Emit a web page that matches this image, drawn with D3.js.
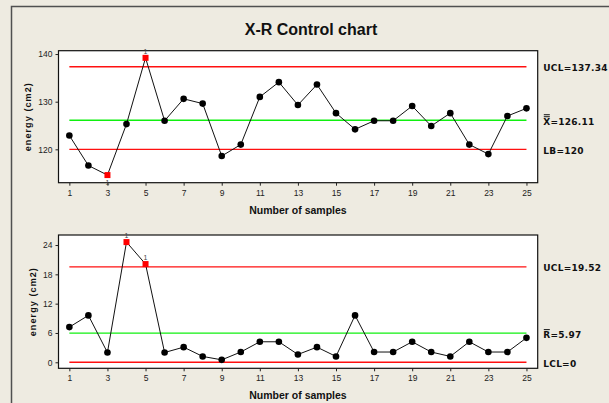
<!DOCTYPE html>
<html><head><meta charset="utf-8">
<script src="https://cdn.jsdelivr.net/npm/d3@7"></script>
<style>
html,body{margin:0;padding:0;background:#EEEBE1;}
svg{display:block;}
</style></head>
<body>
<svg id="c" width="609" height="403"></svg>
<script>
const samples = d3.range(1, 26);
const xTicks = [1,3,5,7,9,11,13,15,17,19,21,23,25];
const xbarValues = [122.9,116.6,114.6,125.3,139.2,126.0,130.6,129.6,118.6,121.0,131.0,134.1,129.3,133.6,127.6,124.2,126.0,126.0,129.1,124.9,127.6,121.0,119.0,127.0,128.6];
const rangeValues = [7.2,9.6,2.0,24.6,20.1,2.0,3.1,1.2,0.5,2.1,4.2,4.2,1.6,3.1,1.2,9.6,2.1,2.1,4.2,2.1,1.2,4.2,2.1,2.1,5.0];
const xbarTicks = [120,130,140];
const rangeTicks = [0,6,12,18,24];
const xbarLimits = {ucl:137.34, cl:126.11, lcl:120};
const rangeLimits = {ucl:19.52, cl:5.97, lcl:0};
const xbarFlags = [3,5];
const rangeFlags = [4,5];

const svg = d3.select("#c");
// outer frame
svg.append("rect").attr("x",11.5).attr("y",6.5).attr("width",700).attr("height",500)
  .attr("fill","#EEEBE1").attr("stroke","#505050").attr("stroke-width",1.5);

svg.append("text").attr("x",311).attr("y",34.5).attr("text-anchor","middle")
  .attr("font-family","Liberation Sans, Arial, sans-serif").attr("font-weight","bold")
  .attr("font-size",16).attr("fill","#111").text("X-R Control chart");

const L = 58.5, R = 537.7;
const x = d3.scaleLinear().domain([0.43, 25.59]).range([L, R]);

function panel(cfg){
  const y = d3.scaleLinear().domain(cfg.domain).range([cfg.bottom, cfg.top]);
  const g = svg.append("g");
  g.append("rect").attr("x",L).attr("y",cfg.top).attr("width",R-L).attr("height",cfg.bottom-cfg.top)
    .attr("fill","#fff").attr("stroke","#111").attr("stroke-width",1.2);

  // axes
  const ya = g.append("g").attr("transform",`translate(${L},0)`)
    .call(d3.axisLeft(y).tickValues(cfg.ticks).tickSize(3).tickPadding(3).tickFormat(d3.format("d")));
  ya.select(".domain").remove();
  ya.selectAll("text").attr("font-family","Liberation Sans, Arial, sans-serif").attr("font-size",8.5).attr("fill","#222");
  ya.selectAll("line").attr("stroke","#222");

  const xa = g.append("g").attr("transform",`translate(0,${cfg.bottom})`)
    .call(d3.axisBottom(x).tickValues(xTicks).tickSize(3).tickPadding(4).tickFormat(d3.format("d")));
  xa.select(".domain").remove();
  xa.selectAll("text").attr("font-family","Liberation Sans, Arial, sans-serif").attr("font-size",8.5).attr("fill","#222");
  xa.selectAll("line").attr("stroke","#222");

  g.append("text").attr("x",298).attr("y",cfg.bottom+31).attr("text-anchor","middle")
    .attr("font-family","Liberation Sans, Arial, sans-serif").attr("font-weight","bold")
    .attr("font-size",10.5).attr("fill","#111").text("Number of samples");

  const cy = (cfg.top+cfg.bottom)/2;
  g.append("text").attr("transform",`translate(${cfg.ylabX},${cy}) rotate(-90)`).attr("text-anchor","middle")
    .attr("font-family","Liberation Sans, Arial, sans-serif").attr("font-weight","bold")
    .attr("font-size",9).attr("letter-spacing",1.1).attr("fill","#111").text("energy (cm2)");

  // limit lines
  const lim = cfg.limits;
  [[lim.ucl,"#FF1010"],[lim.cl,"#10F010"],[lim.lcl,"#FF1010"]].forEach(([v,c])=>{
    g.append("line").attr("x1",x(1)).attr("x2",x(25)).attr("y1",y(v)).attr("y2",y(v))
      .attr("stroke",c).attr("stroke-width",1.4);
  });

  // data line
  g.append("path").datum(cfg.values).attr("fill","none").attr("stroke","#111").attr("stroke-width",1)
    .attr("d", d3.line().x((d,i)=>x(samples[i])).y(d=>y(d)));

  cfg.values.forEach((v,i)=>{
    const s = samples[i];
    if (cfg.flags.includes(s)) {
      g.append("rect").attr("x",x(s)-3).attr("y",y(v)-3).attr("width",6).attr("height",6).attr("fill","#FF0000");
      const above = v > lim.cl;
      g.append("text").attr("x",x(s)).attr("y", above ? y(v)-4 : y(v)+10).attr("text-anchor","middle")
        .attr("font-family","Liberation Sans, Arial, sans-serif").attr("font-size",7).attr("fill","#444").text("1");
    } else {
      g.append("circle").attr("cx",x(s)).attr("cy",y(v)).attr("r",3.3).attr("fill","#000");
    }
  });

  // right labels
  const lx = 543.3;
  const lab = (v, txt, dy) => g.append("text").attr("x",lx).attr("y",y(v)+dy)
    .attr("font-family","DejaVu Sans, Verdana, sans-serif").attr("font-weight","bold")
    .attr("font-size",9).attr("letter-spacing",0.25).attr("fill","#111").text(txt);
  lab(lim.ucl, cfg.labels[0], 4.5);
  lab(lim.cl, cfg.labels[1], 5);
  lab(lim.lcl, cfg.labels[2], 5);
  // overbars for center label
  const by = y(lim.cl) - 3.5;
  for (let k=0;k<cfg.bars;k++){
    g.append("line").attr("x1",lx+0.5).attr("x2",lx+6.5).attr("y1",by-k*2).attr("y2",by-k*2)
      .attr("stroke","#111").attr("stroke-width",1);
  }
}

panel({top:50.7, bottom:182.7, domain:[113.0,140.7], ticks:xbarTicks, values:xbarValues,
  limits:xbarLimits, flags:xbarFlags, ylabX:31,
  labels:["UCL=137.34","X=126.11","LB=120"], bars:2});
panel({top:235, bottom:368.3, domain:[-1.23,26.05], ticks:rangeTicks, values:rangeValues,
  limits:rangeLimits, flags:rangeFlags, ylabX:36,
  labels:["UCL=19.52","R=5.97","LCL=0"], bars:1});
</script>
</body></html>
